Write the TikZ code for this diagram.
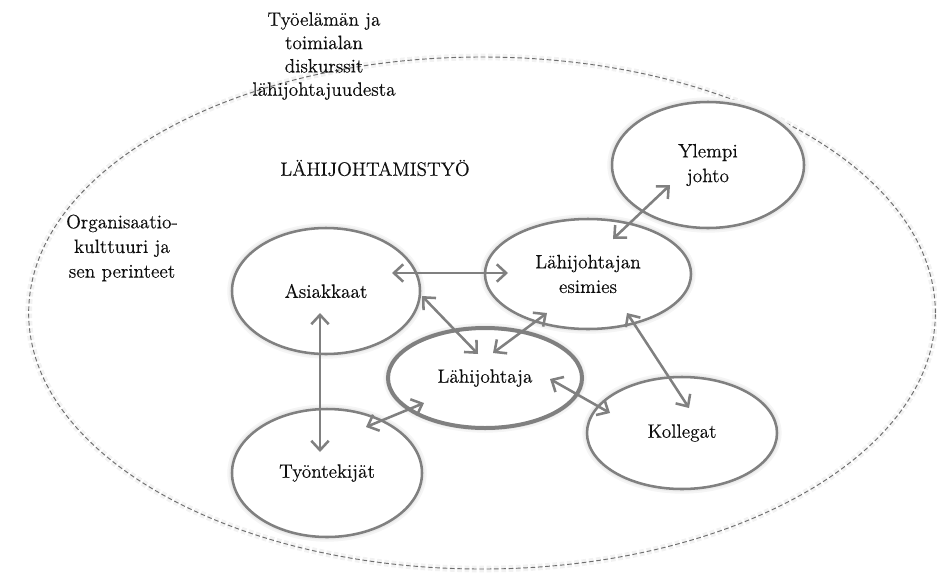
\documentclass[tikz,border=0pt]{standalone}
\usepackage{fontspec}
\newfontfamily\labelfont{lmroman12-regular.otf}[FakeBold=0.35]
\usetikzlibrary{shapes.geometric,arrows.meta}
\definecolor{linegray}{RGB}{128,128,128}
\definecolor{dashgray}{RGB}{110,110,110}
\definecolor{inkcol}{RGB}{15,15,15}
\begin{document}
\begin{tikzpicture}[x=0.75pt,y=-0.75pt,
  txt/.style={font=\labelfont\fontsize{14.5}{18.5}\selectfont, text=inkcol, align=center},
  glow/.style={preaction={draw=black!4, line width=7pt},
               preaction={draw=black!8, line width=4pt}},
  actor/.style={ellipse, draw=linegray, line width=1.9pt, inner sep=0pt,
                fill=white, glow, txt},
  mainactor/.style={actor, line width=3pt},
  link/.style={draw=linegray, line width=1.9pt,
               {Straight Barb[length=7pt,width=13pt]}-{Straight Barb[length=7pt,width=13pt]}}
]
\useasboundingbox (0,0) rectangle (937,575);

% surrounding context: the work-life discourse and organisational culture
\node[ellipse, draw=dashgray, dash pattern=on 3.5pt off 2pt, line width=0.7pt,
      preaction={draw=black!5, line width=5pt},
      minimum width=680pt, minimum height=384pt, inner sep=0pt]
      (context) at (482,313) {};

\node[txt, font=\labelfont\fontsize{14.5}{17.5}\selectfont] (discourse) at (324,56)
  {Työelämän ja\\toimialan\\diskurssit\\lähijohtajuudesta};
\node[txt] (culture) at (122,248)
  {Organisaatio-\\kulttuuri ja\\sen perinteet};
\node[txt] (work) at (375,168) {LÄHIJOHTAMISTYÖ};

% actors
\node[actor, minimum width=144pt, minimum height=94.5pt] (upper) at (708,165) {Ylempi\\johto};
\node[actor, minimum width=154.5pt, minimum height=82.5pt] (boss) at (588,274) {Lähijohtajan\\esimies};
\node[actor, minimum width=141pt, minimum height=94.5pt] (clients) at (326,291) {Asiakkaat};
\node[mainactor, minimum width=145.5pt, minimum height=75pt] (manager) at (485,378) {Lähijohtaja};
\node[actor, minimum width=142.5pt, minimum height=84pt] (peers) at (682,433) {Kollegat};
\node[actor, minimum width=142.5pt, minimum height=96pt] (staff) at (327,473) {Työntekijät};

% arrow end points
\coordinate (c1) at (392,273); \coordinate (b1) at (508,273);
\coordinate (c2) at (422,296); \coordinate (m2) at (478,354);
\coordinate (m3) at (493,353); \coordinate (b3) at (547,313);
\coordinate (b4) at (613,239); \coordinate (u4) at (670,185);
\coordinate (b5) at (627,313); \coordinate (p5) at (689,408);
\coordinate (m6) at (550,379); \coordinate (p6) at (610,413);
\coordinate (c7) at (320,313); \coordinate (s7) at (320,452);
\coordinate (s8) at (366,427); \coordinate (m8) at (424,403);

% relations
\draw[link] (c1) -- (b1);
\draw[link] (c2) -- (m2);
\draw[link] (m3) -- (b3);
\draw[link] (b4) -- (u4);
\draw[link] (b5) -- (p5);
\draw[link] (m6) -- (p6);
\draw[link] (c7) -- (s7);
\draw[link] (s8) -- (m8);
\end{tikzpicture}
\end{document}
